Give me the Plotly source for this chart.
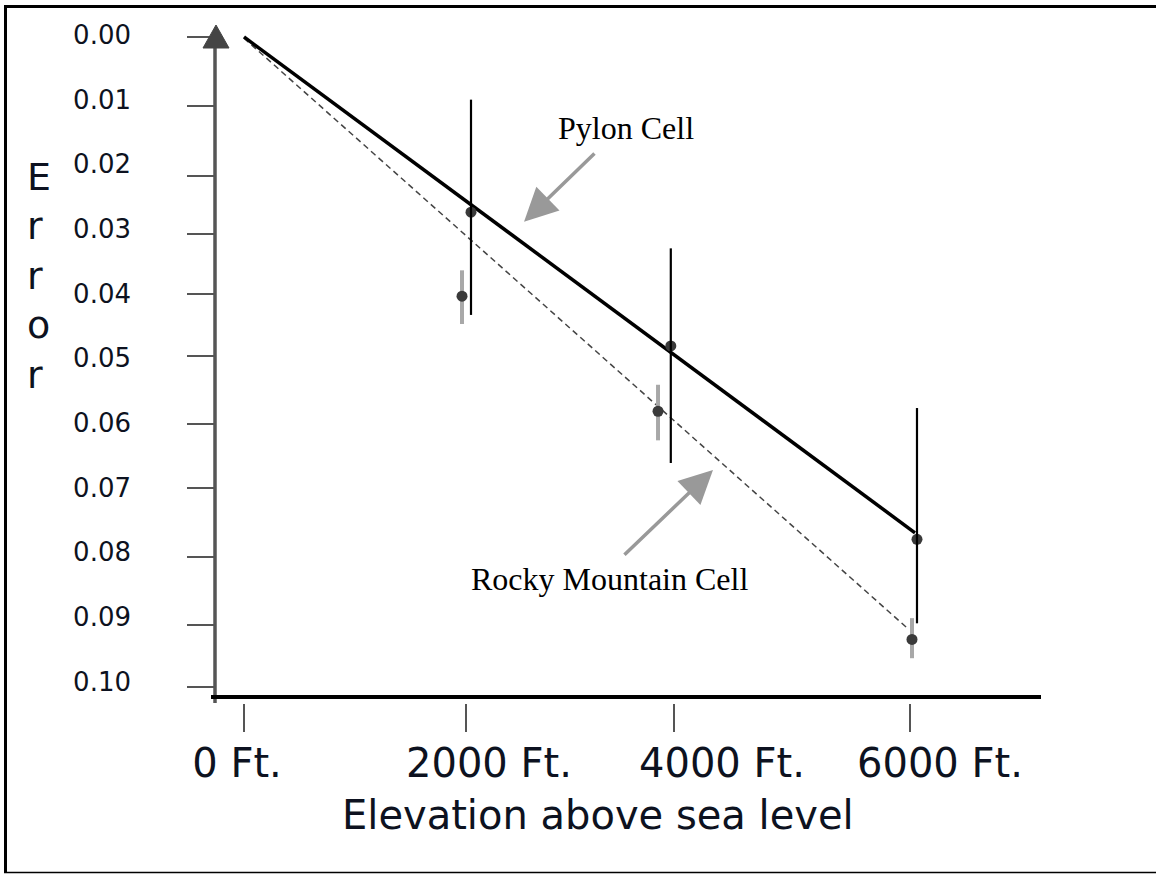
import plotly.graph_objects as go

# ---------------- data ----------------
x_tick_labels = ["0 Ft.", "2000 Ft.", "4000 Ft.", "6000 Ft."]
x_label_at = [-63, 2207, 4306, 6270]          # elevation (ft) where each label sits
x_tick_at = [0, 2000, 3874, 6000]             # elevation (ft) of each drawn tick mark

y_tick_labels = ["0.00", "0.01", "0.02", "0.03", "0.04", "0.05",
                 "0.06", "0.07", "0.08", "0.09", "0.10"]
y_label_at = [0.00, 0.01, 0.02, 0.03, 0.04, 0.05, 0.06, 0.07, 0.08, 0.09, 0.10]
y_tick_at = [0.0003, 0.0110, 0.0218, 0.0308, 0.0401, 0.0497,
             0.0602, 0.0701, 0.0807, 0.0913, 0.1008]

pylon_elev = [2045, 3845, 6063]
pylon_err = [0.0274, 0.0481, 0.0780]
pylon_low = [0.0100, 0.0330, 0.0577]
pylon_high = [0.0433, 0.0662, 0.0910]

rocky_elev = [1964, 3730, 6018]
rocky_err = [0.0404, 0.0582, 0.0935]
rocky_low = [0.0364, 0.0541, 0.0902]
rocky_high = [0.0447, 0.0627, 0.0964]

pylon_fit_elev = [0, 6045]
pylon_fit_err = [0.0003, 0.0770]
rocky_fit_elev = [0, 5973]
rocky_fit_err = [0.0005, 0.0917]

# ---------------- styling ----------------
TXT = "#0d1220"
SANS = "DejaVu Sans"
SERIF = "Liberation Serif"
W, H = 1156, 874
L, R, T, B = 215, 1041, 25, 703


def fx(p):
    return (p - L) / (R - L)


def fy(p):
    return (B - p) / (B - T)


fig = go.Figure()

# fitted lines
fig.add_trace(go.Scatter(x=rocky_fit_elev, y=rocky_fit_err, mode="lines",
                         line=dict(color="#444444", width=1.5, dash="6px,4px"),
                         hoverinfo="skip"))
fig.add_trace(go.Scatter(x=pylon_fit_elev, y=pylon_fit_err, mode="lines",
                         line=dict(color="#000000", width=3.5),
                         hoverinfo="skip"))

# rocky error bars (under the dots)
fig.add_trace(go.Scatter(
    x=rocky_elev, y=rocky_err, mode="markers",
    marker=dict(size=2, color="rgba(0,0,0,0)"),
    error_y=dict(type="data", symmetric=False,
                 array=[h - v for h, v in zip(rocky_high, rocky_err)],
                 arrayminus=[v - l for l, v in zip(rocky_low, rocky_err)],
                 color="#a8a8a8", thickness=4, width=0)))

# dots
fig.add_trace(go.Scatter(x=rocky_elev, y=rocky_err, mode="markers",
                         marker=dict(size=11, color="#3a3a3a")))
fig.add_trace(go.Scatter(x=pylon_elev, y=pylon_err, mode="markers",
                         marker=dict(size=11, color="#3a3a3a")))

# pylon error bars (over the dots)
fig.add_trace(go.Scatter(
    x=pylon_elev, y=pylon_err, mode="markers",
    marker=dict(size=2, color="rgba(0,0,0,0)"),
    error_y=dict(type="data", symmetric=False,
                 array=[h - v for h, v in zip(pylon_high, pylon_err)],
                 arrayminus=[v - l for l, v in zip(pylon_low, pylon_err)],
                 color="#000000", thickness=2.2, width=0)))

# dummy trace for the overlay (tick-mark) axes
fig.add_trace(go.Scatter(x=[None], y=[None], xaxis="x2", yaxis="y2",
                         mode="markers", hoverinfo="skip"))

XR = [-261.3, 7180.2]
YR = [0.103326, -0.001547]

fig.update_layout(
    width=W, height=H, autosize=False,
    margin=dict(l=L, r=W - R, t=T, b=H - B, pad=0),
    paper_bgcolor="white", plot_bgcolor="white",
    showlegend=False,
    font=dict(family=SANS, color=TXT),
    xaxis=dict(range=XR, tickvals=x_label_at, ticktext=x_tick_labels,
               ticks="", showline=False, showgrid=False, zeroline=False,
               tickfont=dict(family=SANS, size=40, color=TXT),
               ticklabelstandoff=33),
    xaxis2=dict(range=XR, overlaying="x", anchor="y", side="bottom",
                tickvals=x_tick_at, ticks="outside", ticklen=28, tickwidth=1.5,
                tickcolor="#555555", showticklabels=False, showline=False,
                showgrid=False, zeroline=False),
    yaxis=dict(range=YR, tickvals=y_label_at, ticktext=y_tick_labels,
               ticks="", showline=False, showgrid=False, zeroline=False,
               tickfont=dict(family=SANS, size=26, color=TXT),
               ticklabelstandoff=83),
    yaxis2=dict(range=YR, overlaying="y", anchor="x", side="left",
                tickvals=y_tick_at, ticks="outside", ticklen=27, tickwidth=1.5,
                tickcolor="#555555", showticklabels=False, showline=False,
                showgrid=False, zeroline=False),
)

shapes = [
    # outer frame
    dict(type="line", xref="paper", yref="paper", x0=fx(4), x1=fx(1160),
         y0=fy(6.5), y1=fy(6.5), line=dict(color="black", width=3)),
    dict(type="line", xref="paper", yref="paper", x0=fx(5.5), x1=fx(5.5),
         y0=fy(5), y1=fy(873), line=dict(color="black", width=3)),
    dict(type="line", xref="paper", yref="paper", x0=fx(4), x1=fx(1160),
         y0=fy(872.5), y1=fy(872.5), line=dict(color="black", width=1.5)),
    # y axis line with arrow head
    dict(type="line", xref="paper", yref="paper", x0=fx(215), x1=fx(215),
         y0=fy(703), y1=fy(46), line=dict(color="#555555", width=3.5)),
    dict(type="path", xref="paper", yref="paper",
         path=f"M {fx(203)},{fy(48)} L {fx(216)},{fy(25)} L {fx(229)},{fy(48)} Z",
         fillcolor="#444444", line=dict(color="#444444", width=1)),
    # x axis line
    dict(type="line", xref="paper", yref="paper", x0=fx(211), x1=fx(1041),
         y0=fy(697), y1=fy(697), line=dict(color="black", width=4)),
]
fig.update_layout(shapes=shapes)

annotations = [
    # pointer arrows
    dict(x=2523, y=0.0289, ax=3171, ay=0.0181, xref="x", yref="y",
         axref="x", ayref="y", text="", showarrow=True, arrowhead=2,
         arrowsize=1.9, arrowwidth=3.5, arrowcolor="#999999", standoff=0),
    dict(x=4225, y=0.0673, ax=3414, ay=0.0806, xref="x", yref="y",
         axref="x", ayref="y", text="", showarrow=True, arrowhead=2,
         arrowsize=1.9, arrowwidth=3.5, arrowcolor="#999999", standoff=0),
    # series labels
    dict(x=3437, y=0.0144, xref="x", yref="y", text="Pylon Cell",
         showarrow=False, font=dict(family=SERIF, size=32, color="black"),
         xanchor="center", yanchor="middle"),
    dict(x=3297, y=0.0842, xref="x", yref="y", text="Rocky Mountain Cell",
         showarrow=False, font=dict(family=SERIF, size=32, color="black"),
         xanchor="center", yanchor="middle"),
    # axis titles
    dict(x=fx(598), y=fy(815), xref="paper", yref="paper",
         text="Elevation above sea level", showarrow=False,
         font=dict(family=SANS, size=40, color=TXT),
         xanchor="center", yanchor="middle"),
    dict(x=fx(25), y=fy(276), xref="paper", yref="paper",
         text="E<br>r<br>r<br>o<br>r", showarrow=False, align="left",
         font=dict(family=SANS, size=38, color=TXT),
         xanchor="left", yanchor="middle"),
]
fig.update_layout(annotations=annotations)

fig.write_html("out.html", config={"displayModeBar": False},
               post_script="document.body.style.margin='0';"
                           "document.body.style.overflow='hidden';")
